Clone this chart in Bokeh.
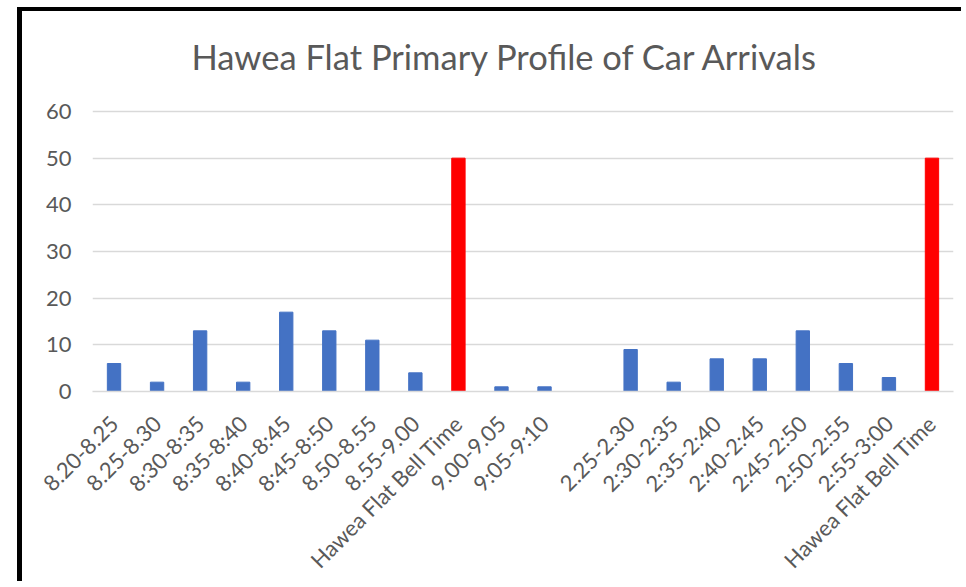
import math
from bokeh.plotting import figure
from bokeh.models import Range1d, FixedTicker, SingleIntervalTicker, ColumnDataSource
from bokeh.embed import file_html
from bokeh.resources import INLINE

title_text = "Hawea Flat Primary Profile of Car Arrivals"
categories = ["8.20-8.25", "8.25-8.30", "8:30-8:35", "8:35-8:40", "8:40-8:45",
              "8:45-8:50", "8.50-8.55", "8.55-9.00", "Hawea Flat Bell Time",
              "9.00-9.05", "9:05-9:10", "", "2.25-2.30", "2:30-2:35",
              "2:35-2:40", "2:40-2:45", "2:45-2:50", "2:50-2:55", "2:55-3:00",
              "Hawea Flat Bell Time"]
arrivals = [6, 2, 13, 2, 17, 13, 11, 4, 50, 1, 1, None, 9, 2, 7, 7, 13, 6, 3, 50]
y_ticks_interval = 10
y_max = 60

BLUE = "#4472C4"
RED = "#FF0000"
GREY_TXT = "#595959"
GRID = "#D9D9D9"
FONT = "Lato"

# layout: the frame extends a little above the top gridline (60) to leave room for the title
FRAME_H = 300          # px, frame height
GRID_SPAN = 280        # px between the 0 and 60 gridlines
y_range_top = y_max * FRAME_H / GRID_SPAN

xs, tops, cols = [], [], []
for i, (c, v) in enumerate(zip(categories, arrivals)):
    if v is None:
        continue
    xs.append(i)
    tops.append(v)
    cols.append(RED if c == "Hawea Flat Bell Time" else BLUE)
src = ColumnDataSource(dict(x=xs, top=tops, color=cols))

p = figure(width=944, height=574, output_backend="svg", toolbar_location=None,
           x_range=Range1d(-0.5, len(categories) - 0.5), y_range=Range1d(0, y_range_top),
           min_border_left=70, min_border_right=13, min_border_top=80,
           min_border_bottom=574 - 80 - FRAME_H,
           margin=(7, 0, 0, 17),
           styles={"border-left": "5px solid black", "border-top": "4px solid black"})

p.vbar(x="x", top="top", width=0.31, color="color", source=src)

p.title.text = title_text
p.title.align = "left"
p.title.offset = 99
p.title.standoff = 29
p.title.text_font = FONT
p.title.text_font_size = "34.5px"
p.title.text_font_style = "normal"
p.title.text_color = GREY_TXT

p.outline_line_color = None
p.background_fill_color = "white"
p.border_fill_color = "white"

p.xgrid.grid_line_color = None
p.ygrid.grid_line_color = GRID
p.ygrid.grid_line_width = 1.5
p.ygrid.ticker = SingleIntervalTicker(interval=y_ticks_interval)

xa = p.xaxis[0]
xa.ticker = FixedTicker(ticks=list(range(len(categories))))
xa.major_label_overrides = {i: c for i, c in enumerate(categories)}
xa.major_label_orientation = math.pi / 4
xa.axis_line_color = GRID
xa.axis_line_width = 1.5
xa.major_tick_line_color = None
xa.minor_tick_line_color = None
xa.major_label_text_font = FONT
xa.major_label_text_font_size = "22px"
xa.major_label_text_color = GREY_TXT
xa.major_label_standoff = 22

ya = p.yaxis[0]
ya.ticker = SingleIntervalTicker(interval=y_ticks_interval)
ya.axis_line_color = None
ya.major_tick_line_color = None
ya.minor_tick_line_color = None
ya.major_label_text_font = FONT
ya.major_label_text_font_size = "22px"
ya.major_label_text_color = GREY_TXT
ya.major_label_standoff = 15

open("out.html", "w").write(file_html(p, INLINE))
